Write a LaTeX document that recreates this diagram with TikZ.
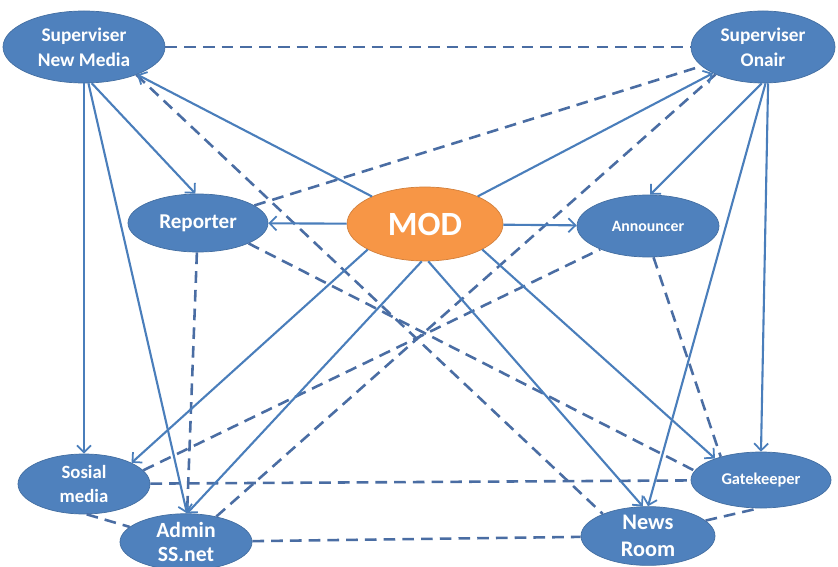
\documentclass[tikz,border=0pt]{standalone}
\usepackage{fontspec}
\setmainfont{Carlito}
\usetikzlibrary{arrows.meta,shapes.geometric}
\definecolor{NodeClr}{HTML}{4F81BD}
\definecolor{ModClr}{HTML}{F79646}
\definecolor{LinkClr}{HTML}{4A7EBB}
\definecolor{DashClr}{HTML}{4A6DA3}

\begin{document}
\begin{tikzpicture}[x=0.03cm,y=-0.03cm,
  role/.style={ellipse,fill=NodeClr,draw=NodeClr!85!black,line width=0.6pt,
    text=white,align=center,inner sep=0pt},
  flow/.style={draw=LinkClr,line width=1.8pt,
    -{Straight Barb[length=6pt,width=12pt,line width=1.5pt]}},
  link/.style={draw=DashClr,line width=2.2pt,dash pattern=on 10pt off 6pt}]
\useasboundingbox (0,0) rectangle (838,567);

\node[role,minimum width=4.86cm,minimum height=2.16cm,
  font=\bfseries\fontsize{16.5}{21}\selectfont] (snm) at (84,47) {Superviser\\New Media};
\node[role,minimum width=4.32cm,minimum height=2.16cm,
  font=\bfseries\fontsize{16.5}{21}\selectfont] (so) at (763,47) {Superviser\\Onair};
\node[role,minimum width=4.2cm,minimum height=1.74cm,
  font=\bfseries\fontsize{18}{20}\selectfont] (rep) at (198,223) {Reporter};
\node[role,fill=ModClr,draw=ModClr!85!black,minimum width=4.68cm,minimum height=2.22cm,
  font=\bfseries\fontsize{29}{32}\selectfont] (mod) at (425,224) {MOD};
\node[role,minimum width=4.26cm,minimum height=1.86cm,
  font=\bfseries\fontsize{13.5}{15}\selectfont] (ann) at (648,226) {Announcer};
\node[role,minimum width=3.96cm,minimum height=1.8cm,
  font=\bfseries\fontsize{16}{20}\selectfont] (som) at (84,484) {Sosial\\media};
\node[role,minimum width=3.96cm,minimum height=1.68cm,
  font=\bfseries\fontsize{18.5}{21}\selectfont] (adm) at (186,542) {Admin\\SS.net};
\node[role,minimum width=4.2cm,minimum height=1.68cm,
  font=\bfseries\fontsize{14}{15}\selectfont] (gk) at (761,480) {Gatekeeper};
\node[role,minimum width=4.02cm,minimum height=1.74cm,
  font=\bfseries\fontsize{19}{23}\selectfont] (nr) at (648,536) {News\\Room};

\draw[link] (snm) -- (so);
\draw[link] (rep) -- (so);
\draw[link] (rep.-22) -- (gk.172);
\draw[link] (snm.-28) -- (nr.154);
\draw[link] (som.13) -- (ann.206);
\draw[link] (adm.40) -- (so.210);
\draw[link] (rep) -- (adm);
\draw[link] (adm) -- (nr);
\draw[link] (som.-85) -- (adm.165);
\draw[link] (nr.15) -- (gk.-95);
\draw[link] (ann.-80) -- (gk.150);
\draw[link] (som) -- (gk);

\draw[flow] (mod) -- (snm);
\draw[flow] (mod) -- (so);
\draw[flow] (mod) -- (rep);
\draw[flow] (mod) -- (ann);
\draw[flow] (mod.204) -- (som.24);
\draw[flow] (mod.-24) -- (gk.155);
\draw[flow] (mod.-95) -- (adm.88);
\draw[flow] (mod.-85) -- (nr.100);
\draw[flow] (snm.-78) -- (rep.95);
\draw[flow] (snm.-90) -- (som.90);
\draw[flow] (snm.-83) -- (adm.88);
\draw[flow] (so.-92) -- (ann.86);
\draw[flow] (so.-86) -- (nr.90);
\draw[flow] (so.-82) -- (gk.90);

\end{tikzpicture}
\end{document}
